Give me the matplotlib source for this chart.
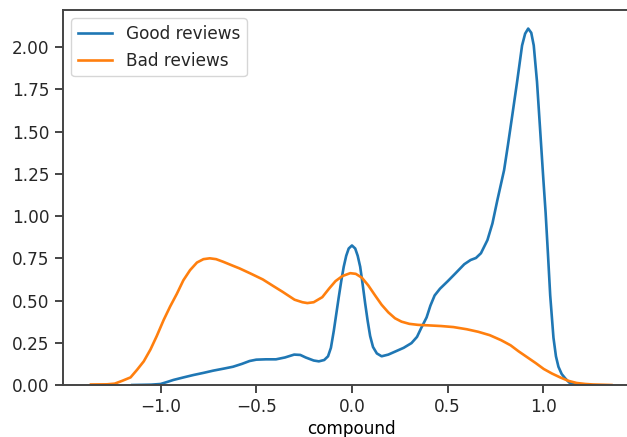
import matplotlib.pyplot as plt

# values (kde curves of the compound score)
good_x = [-1.148, -1.05, -1.0, -0.96, -0.933, -0.88, -0.829, -0.775, -0.725, -0.67,
          -0.622, -0.575, -0.535, -0.5, -0.45, -0.397, -0.35, -0.302, -0.27, -0.242,
          -0.2, -0.173, -0.145, -0.125, -0.11, -0.095, -0.082, -0.069, -0.056, -0.043,
          -0.03, -0.017, 0.0, 0.017, 0.03, 0.043, 0.056, 0.069, 0.082, 0.095,
          0.11, 0.13, 0.155, 0.19, 0.224, 0.27, 0.311, 0.34, 0.363, 0.39,
          0.41, 0.432, 0.46, 0.501, 0.54, 0.587, 0.62, 0.648, 0.674, 0.708,
          0.734, 0.76, 0.795, 0.815, 0.838, 0.863, 0.889, 0.905, 0.921, 0.937,
          0.95, 0.967, 0.984, 1.0, 1.012, 1.024, 1.036, 1.053, 1.066, 1.079,
          1.096, 1.114, 1.135, 1.157, 1.18]
good_y = [0.0, 0.002, 0.006, 0.02, 0.03, 0.045, 0.059, 0.072, 0.085, 0.097,
          0.108, 0.125, 0.142, 0.15, 0.152, 0.152, 0.163, 0.18, 0.178, 0.163,
          0.145, 0.14, 0.148, 0.17, 0.22, 0.32, 0.42, 0.52, 0.615, 0.7,
          0.765, 0.808, 0.826, 0.808, 0.765, 0.7, 0.595, 0.483, 0.38, 0.29,
          0.225, 0.187, 0.17, 0.18, 0.197, 0.22, 0.248, 0.285, 0.34, 0.4,
          0.47, 0.53, 0.57, 0.615, 0.66, 0.715, 0.74, 0.752, 0.78, 0.858,
          0.956, 1.095, 1.272, 1.42, 1.598, 1.795, 2.01, 2.08, 2.11, 2.085,
          2.01, 1.795, 1.5, 1.22, 1.02, 0.78, 0.53, 0.28, 0.17, 0.108,
          0.065, 0.04, 0.015, 0.004, 0.0]

bad_x = [-1.364, -1.28, -1.24, -1.2, -1.157, -1.123, -1.088, -1.053, -1.02, -0.984,
         -0.95, -0.915, -0.881, -0.846, -0.81, -0.776, -0.743, -0.71, -0.674, -0.62,
         -0.587, -0.53, -0.466, -0.41, -0.363, -0.3, -0.259, -0.233, -0.2, -0.155,
         -0.12, -0.086, -0.05, -0.009, 0.02, 0.052, 0.085, 0.121, 0.155, 0.19,
         0.225, 0.259, 0.3, 0.345, 0.4, 0.466, 0.53, 0.6, 0.66, 0.72,
         0.78, 0.829, 0.87, 0.915, 0.96, 1.002, 1.045, 1.088, 1.13, 1.174,
         1.22, 1.261, 1.356]
bad_y = [0.003, 0.004, 0.008, 0.025, 0.045, 0.09, 0.14, 0.21, 0.29, 0.385,
         0.465, 0.54, 0.62, 0.68, 0.725, 0.745, 0.75, 0.745, 0.73, 0.705,
         0.69, 0.66, 0.625, 0.585, 0.552, 0.505, 0.49, 0.485, 0.49, 0.52,
         0.57, 0.615, 0.645, 0.662, 0.658, 0.635, 0.59, 0.53, 0.475, 0.43,
         0.395, 0.375, 0.362, 0.356, 0.353, 0.349, 0.343, 0.33, 0.315, 0.295,
         0.265, 0.235, 0.2, 0.165, 0.13, 0.095, 0.068, 0.045, 0.025, 0.012,
         0.006, 0.003, 0.0]

plt.rcParams['font.size'] = 12.2
plt.rcParams['text.color'] = '#262626'
plt.rcParams['xtick.color'] = '#262626'
plt.rcParams['ytick.color'] = '#262626'

fig = plt.figure(figsize=(6.27, 4.37), dpi=100)
# axes run off the right edge like in the cropped screenshot
ax = fig.add_axes([63 / 627, 52 / 437, 576 / 627, 375 / 437])

ax.plot(good_x, good_y, color='#1f77b4', lw=1.9, label='Good reviews')
ax.plot(bad_x, bad_y, color='#ff7f0e', lw=1.9, label='Bad reviews')

ax.set_xlim(-1.51, 1.50)
ax.set_ylim(0, 2.22)
ax.set_xticks([-1.0, -0.5, 0.0, 0.5, 1.0])
ax.set_yticks([0, 0.25, 0.5, 0.75, 1.0, 1.25, 1.5, 1.75, 2.0])
ax.tick_params(length=6, width=1.2)
for s in ax.spines.values():
    s.set_linewidth(1.4)
    s.set_color('#444444')
ax.set_xlabel('compound', labelpad=3)

ax.legend(loc='upper left')

plt.savefig('out.png')
